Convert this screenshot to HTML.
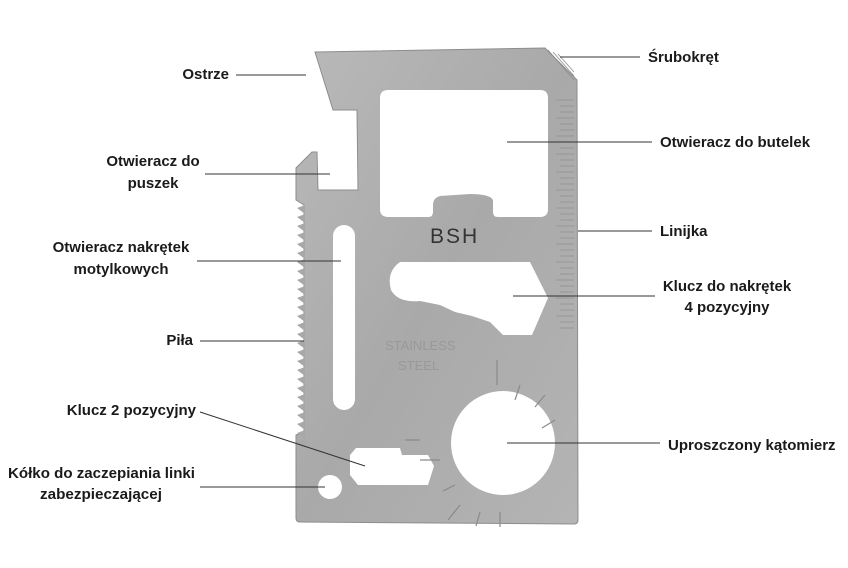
<!DOCTYPE html>
<html><head><meta charset="utf-8"><style>
html,body{margin:0;padding:0;background:#fff;}
svg{display:block;}
text{font-family:"Liberation Sans",sans-serif;font-size:15px;font-weight:bold;fill:#1a1a1a;}
</style></head><body>
<svg width="848" height="568" viewBox="0 0 848 568" xmlns="http://www.w3.org/2000/svg">
<defs>
<linearGradient id="g" x1="0" y1="0" x2="1" y2="1">
<stop offset="0" stop-color="#b9b9b9"/><stop offset="0.5" stop-color="#a9a9a9"/><stop offset="1" stop-color="#b4b4b4"/>
</linearGradient>
</defs>
<path fill="url(#g)" stroke="#8d8d8d" stroke-width="1" d="M315,52 L545,48 L577,80 L578,520 Q578,524 574,524 L300,522 Q296,522 296,518 L296,435 L304,432 L304,205 L296,200 L296,168 L312,152 L317,152 L318,190 L358,190 L357,110 L333,110 Z"/>
<path fill="#a8a8a8" d="M305,205 l-8,3 l8,6 l-8,3 l8,6 l-8,3 l8,6 l-8,3 l8,6 l-8,3 l8,6 l-8,3 l8,6 l-8,3 l8,6 l-8,3 l8,6 l-8,3 l8,6 l-8,3 l8,6 l-8,3 l8,6 l-8,3 l8,6 l-8,3 l8,6 l-8,3 l8,6 l-8,3 l8,6 l-8,3 l8,6 l-8,3 l8,6 l-8,3 l8,6 l-8,3 l8,6 l-8,3 l8,6 l-8,3 l8,6 l-8,3 l8,6 l-8,3 l8,6 l-8,3 l8,6 l-8,3 l8,6 l-8,3 l8,6 l-8,3 l8,6 Z"/>
<g stroke="#909090" stroke-width="0.8">
<path d="M556,100 h18 M560,106 h14 M560,112 h14 M556,118 h18 M560,124 h14 M560,130 h14 M556,136 h18 M560,142 h14 M560,148 h14 M556,154 h18 M560,160 h14 M560,166 h14 M556,172 h18 M560,178 h14 M560,184 h14 M556,190 h18 M560,196 h14 M560,202 h14 M556,208 h18 M560,214 h14 M560,220 h14 M556,226 h18 M560,232 h14 M560,238 h14 M556,244 h18 M560,250 h14 M560,256 h14 M556,262 h18 M560,268 h14 M560,274 h14 M556,280 h18 M560,286 h14 M560,292 h14 M556,298 h18 M560,304 h14 M560,310 h14 M556,316 h18 M560,322 h14 M560,328 h14"/>
<path d="M548,50 l26,30 M553,52 l21,24 M558,54 l16,18" />
</g>
<path fill="#fff" d="M388,90 H540 Q548,90 548,98 V209 Q548,217 540,217 H498 Q493,217 493,212 V200 Q490,194 470,194 L440,196 Q433,198 433,205 V212 Q433,217 428,217 H388 Q380,217 380,209 V98 Q380,90 388,90 Z"/>
<rect x="333" y="225" width="22" height="185" rx="11" fill="#fff"/>
<path fill="#fff" d="M400,262 H530 L548,298 L532,335 H503 L490,322 L472,316 L455,312 L440,305 L420,301 Q398,303 391,290 Q386,272 400,262 Z"/>
<circle cx="503" cy="443" r="52" fill="#fff"/>
<path fill="#fff" d="M356,448 H400 L402,455 H428 L434,466 L428,485 H358 L350,475 L350,455 Z"/>
<circle cx="330" cy="487" r="12" fill="#fff"/>
<g stroke="#8a8a8a" stroke-width="1.2">
<path d="M497,360 v25 M520,385 l-5,15 M545,395 l-10,12 M555,420 l-13,8 M440,460 h-20 M455,485 l-12,6 M460,505 l-12,15 M480,512 l-4,14 M500,512 v15 M420,440 h-15"/>
</g>
<text x="430" y="243" style="font-size:21px;font-weight:normal;fill:#333;letter-spacing:2px">BSH</text>
<text x="385" y="350" style="font-size:13px;font-weight:normal;fill:#999">STAINLESS</text>
<text x="398" y="370" style="font-size:13px;font-weight:normal;fill:#999">STEEL</text>
<g stroke="#333" stroke-width="1">
<path d="M236,75 H306"/>
<path d="M205,174 H330"/>
<path d="M197,261 H341"/>
<path d="M200,341 H304"/>
<path d="M200,412 L365,466"/>
<path d="M200,487 H325"/>
<path d="M560,57 H640"/>
<path d="M507,142 H652"/>
<path d="M578,231 H652"/>
<path d="M513,296 H655"/>
<path d="M507,443 H660"/>
</g>
<text x="229" y="79" text-anchor="end">Ostrze</text>
<text x="153" y="166" text-anchor="middle">Otwieracz do</text>
<text x="153" y="188" text-anchor="middle">puszek</text>
<text x="121" y="252" text-anchor="middle">Otwieracz nakrętek</text>
<text x="121" y="274" text-anchor="middle">motylkowych</text>
<text x="193" y="345" text-anchor="end">Piła</text>
<text x="196" y="415" text-anchor="end">Klucz 2 pozycyjny</text>
<text x="8" y="478" textLength="187" lengthAdjust="spacingAndGlyphs">Kółko do zaczepiania linki</text>
<text x="40" y="499" textLength="122" lengthAdjust="spacingAndGlyphs">zabezpieczającej</text>
<text x="648" y="62">Śrubokręt</text>
<text x="660" y="147">Otwieracz do butelek</text>
<text x="660" y="236">Linijka</text>
<text x="727" y="291" text-anchor="middle">Klucz do nakrętek</text>
<text x="727" y="312" text-anchor="middle">4 pozycyjny</text>
<text x="668" y="450">Uproszczony kątomierz</text>
</svg>
</body></html>
